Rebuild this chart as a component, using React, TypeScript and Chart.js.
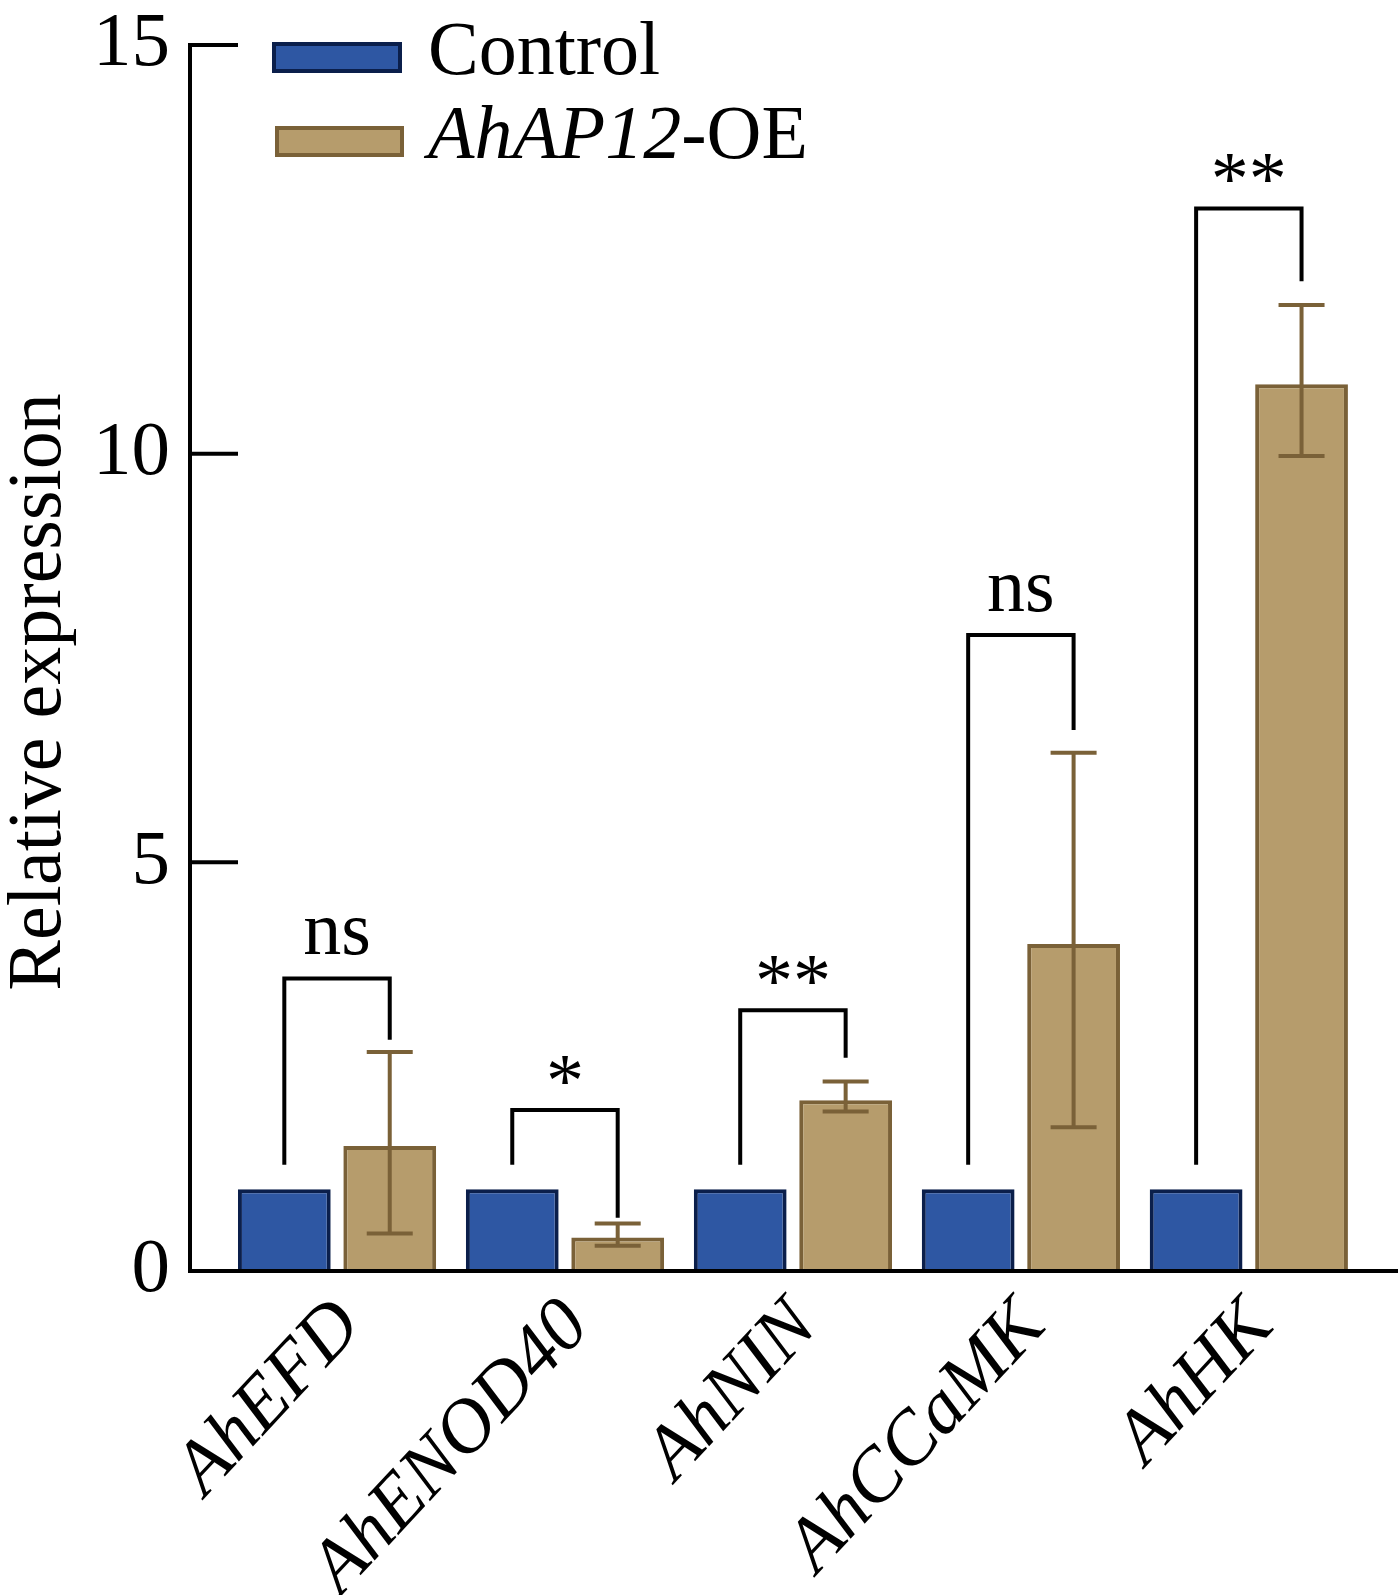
import { useEffect, useRef } from 'react'
import { Chart, registerables } from 'chart.js'

Chart.register(...registerables)

// data
const genes = ['AhEFD', 'AhENOD40', 'AhNIN', 'AhCCaMK', 'AhHK']
const controlValues = [1, 1, 1, 1, 1]
const oeValues = [1.53, 0.41, 2.09, 4.0, 10.85]
const oeErrLow = [0.46, 0.31, 1.95, 1.76, 9.97]
const oeErrHigh = [2.68, 0.58, 2.32, 6.34, 11.82]
const bracketTop = [3.58, 1.97, 3.19, 7.78, 13.0]
const bracketLeftEnd = [1.3, 1.3, 1.3, 1.3, 1.3]
const bracketRightEnd = [2.83, 0.65, 2.61, 6.62, 12.11]
const sigLabels = ['ns', '*', '**', 'ns', '**']
const yTicks = [0, 5, 10, 15]

const SERIF = '"Liberation Serif", "Times New Roman", serif'
const CONTROL_FILL = '#2e57a3'
const CONTROL_EDGE = '#0b1f4b'
const OE_FILL = '#b69c6c'
const OE_EDGE = '#7a6138'

const overlay = {
  id: 'overlay',
  afterDatasetsDraw(chart: any) {
    const { ctx, chartArea } = chart
    const y = chart.scales.y
    const ctrl = chart.getDatasetMeta(0).data
    const oe = chart.getDatasetMeta(1).data

    const line = (x1: number, y1: number, x2: number, y2: number) => {
      ctx.beginPath()
      ctx.moveTo(x1, y1)
      ctx.lineTo(x2, y2)
      ctx.stroke()
    }

    ctx.save()
    ctx.lineCap = 'butt'

    // x axis line on top of the bars
    ctx.strokeStyle = '#000'
    ctx.lineWidth = 4
    line(chartArea.left - 2, chartArea.bottom, chartArea.right, chartArea.bottom)

    // inward y ticks
    yTicks.forEach((v) => {
      const py = y.getPixelForValue(v)
      line(chartArea.left, py, chartArea.left + 48, py)
    })

    // error bars
    ctx.strokeStyle = OE_EDGE
    ctx.lineWidth = 4
    oe.forEach((bar: any, i: number) => {
      const lo = y.getPixelForValue(oeErrLow[i])
      const hi = y.getPixelForValue(oeErrHigh[i])
      line(bar.x, lo, bar.x, hi)
      line(bar.x - 23, lo, bar.x + 23, lo)
      line(bar.x - 23, hi, bar.x + 23, hi)
    })

    // significance brackets
    ctx.strokeStyle = '#000'
    ctx.lineWidth = 4
    ctx.lineJoin = 'miter'
    ctx.fillStyle = '#000'
    ctx.textAlign = 'center'
    ctx.textBaseline = 'alphabetic'
    ctx.font = `76px ${SERIF}`
    genes.forEach((_, i) => {
      const xl = ctrl[i].x
      const xr = oe[i].x
      const top = y.getPixelForValue(bracketTop[i])
      ctx.beginPath()
      ctx.moveTo(xl, y.getPixelForValue(bracketLeftEnd[i]))
      ctx.lineTo(xl, top)
      ctx.lineTo(xr, top)
      ctx.lineTo(xr, y.getPixelForValue(bracketRightEnd[i]))
      ctx.stroke()
      const isStar = sigLabels[i].startsWith('*')
      ctx.fillText(sigLabels[i], (xl + xr) / 2, top - (isStar ? 4 : 24))
    })

    ctx.restore()
  },
  afterDraw(chart: any) {
    const { ctx, chartArea } = chart
    ctx.save()

    // y axis title
    ctx.fillStyle = '#000'
    ctx.font = `76px ${SERIF}`
    ctx.textAlign = 'center'
    ctx.textBaseline = 'middle'
    ctx.translate(chartArea.left - 150, 692)
    ctx.rotate(-Math.PI / 2)
    ctx.fillText('Relative expression', 0, 0)
    ctx.restore()

    // legend
    ctx.save()
    ctx.lineWidth = 4
    ctx.fillStyle = CONTROL_FILL
    ctx.fillRect(272, 42, 130, 31)
    ctx.strokeStyle = CONTROL_EDGE
    ctx.strokeRect(274, 44, 126, 27)
    ctx.fillStyle = OE_FILL
    ctx.fillRect(275, 126, 129, 31)
    ctx.strokeStyle = OE_EDGE
    ctx.strokeRect(277, 128, 125, 27)

    ctx.fillStyle = '#000'
    ctx.textAlign = 'left'
    ctx.textBaseline = 'alphabetic'
    ctx.font = `76px ${SERIF}`
    ctx.fillText('Control', 428, 74)
    ctx.font = `italic 76px ${SERIF}`
    ctx.fillText('AhAP12', 428, 158)
    const w = ctx.measureText('AhAP12').width
    ctx.font = `76px ${SERIF}`
    ctx.fillText('-OE', 428 + w, 158)
    ctx.restore()
  },
}

export default function App() {
  const canvasRef = useRef<HTMLCanvasElement>(null)

  useEffect(() => {
    if (!canvasRef.current) return
    const chart = new Chart(canvasRef.current, {
      type: 'bar',
      data: {
        datasets: [
          {
            label: 'Control',
            data: controlValues.map((v, i) => ({ x: i, y: v })),
            backgroundColor: CONTROL_FILL,
            borderColor: CONTROL_EDGE,
            borderWidth: { top: 4, left: 4, right: 4, bottom: 0 },
            borderSkipped: 'start',
            categoryPercentage: 0.925,
            barPercentage: 0.88,
          },
          {
            label: 'AhAP12-OE',
            data: oeValues.map((v, i) => ({ x: i, y: v })),
            backgroundColor: OE_FILL,
            borderColor: OE_EDGE,
            borderWidth: { top: 4, left: 4, right: 4, bottom: 0 },
            borderSkipped: 'start',
            categoryPercentage: 0.925,
            barPercentage: 0.88,
          },
        ],
      },
      options: {
        responsive: true,
        maintainAspectRatio: false,
        animation: false,
        layout: { padding: { top: 45, right: 2, left: 0, bottom: 0 } },
        plugins: {
          legend: { display: false },
          tooltip: { enabled: false },
        },
        scales: {
          x: {
            type: 'linear',
            min: -0.645,
            max: 4.65,
            offset: false,
            afterBuildTicks: (s: any) => {
              s.ticks = genes.map((_, i) => ({ value: i }))
            },
            afterFit: (s: any) => {
              s.height = 324
            },
            grid: { display: false, drawTicks: false, offset: false },
            border: { display: true, color: '#000', width: 4 },
            ticks: {
              autoSkip: false,
              minRotation: 47,
              maxRotation: 47,
              padding: 12,
              labelOffset: 12,
              color: '#000',
              font: { family: SERIF, size: 76, style: 'italic' },
              callback: (v: any) => genes[v] ?? '',
            },
          },
          y: {
            min: 0,
            max: 15,
            afterBuildTicks: (s: any) => {
              s.ticks = yTicks.map((v) => ({ value: v }))
            },
            afterFit: (s: any) => {
              s.width = 190
            },
            grid: { display: false, drawTicks: false },
            border: { display: true, color: '#000', width: 4 },
            ticks: {
              padding: 20,
              color: '#000',
              font: { family: SERIF, size: 77, lineHeight: 0.3 },
            },
          },
        },
      } as any,
      plugins: [overlay],
    })
    return () => chart.destroy()
  }, [])

  return (
    <div style={{ position: 'absolute', left: 0, top: 0, width: 1399, height: 1595 }}>
      <canvas ref={canvasRef} />
    </div>
  )
}
